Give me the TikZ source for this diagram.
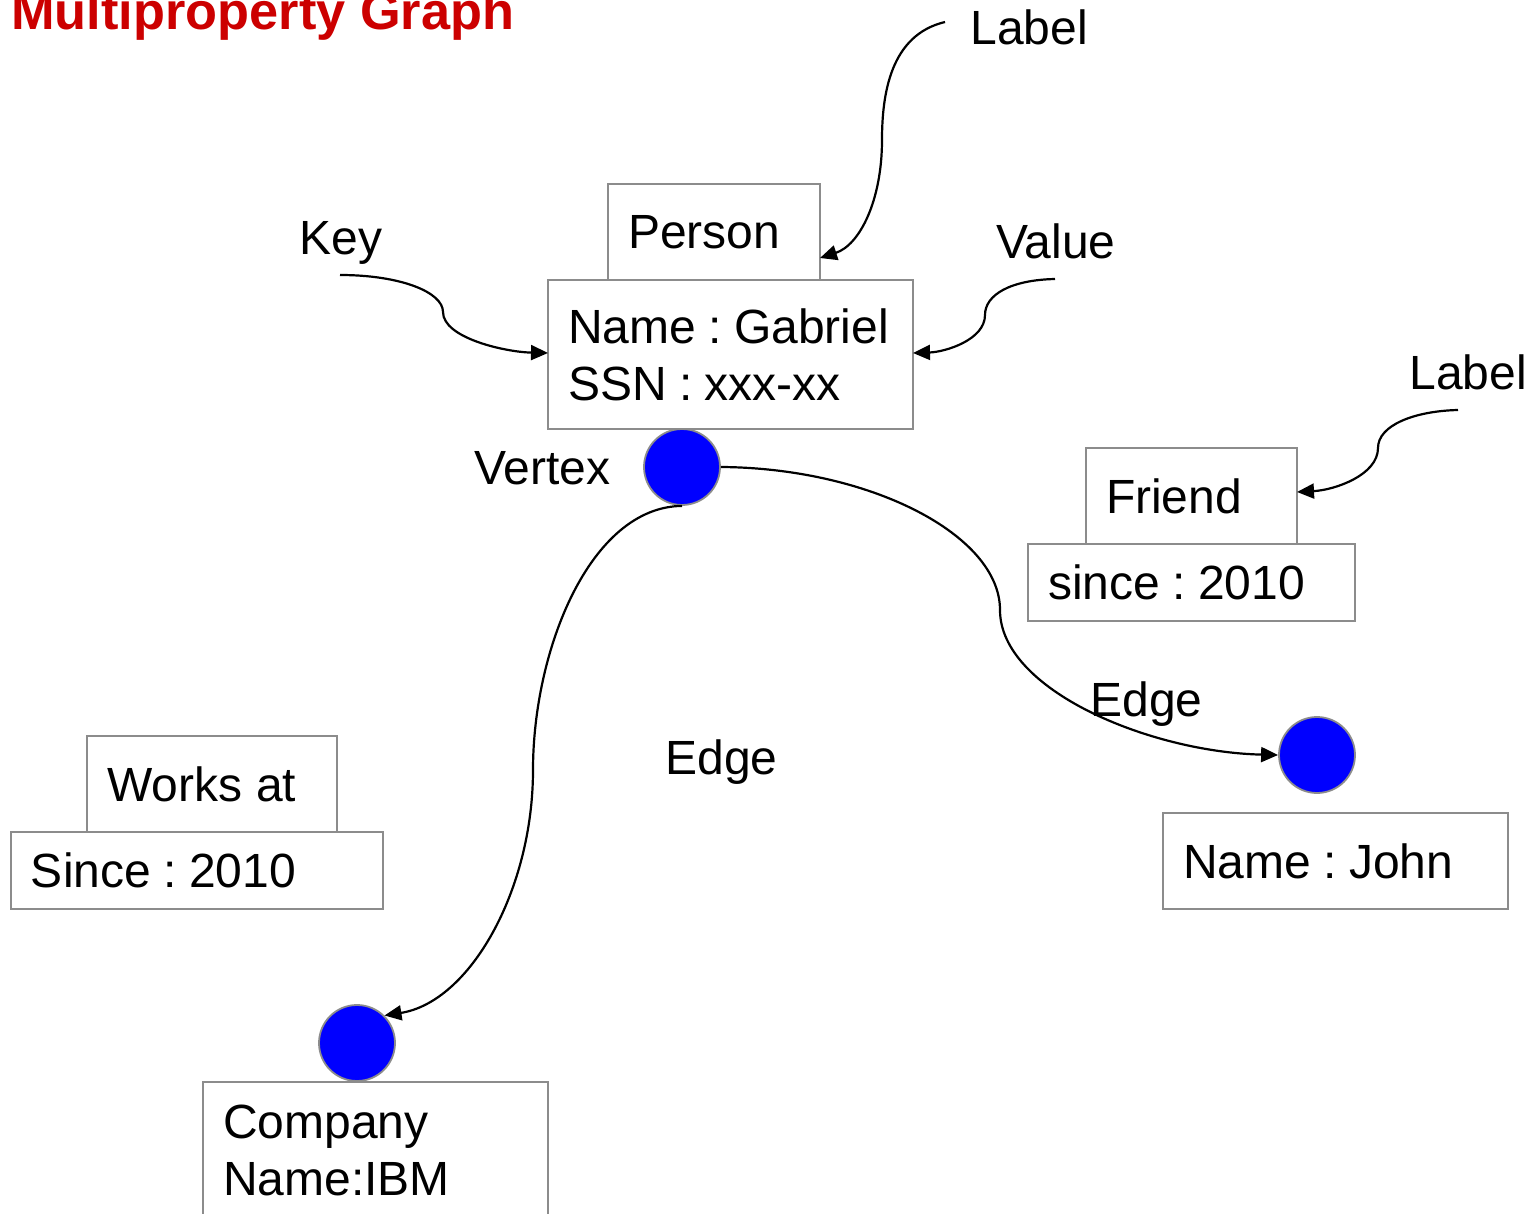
\documentclass[tikz,border=0pt]{standalone}
\usepackage{fontspec}
\setmainfont{Liberation Sans}
\usetikzlibrary{arrows.meta}
\definecolor{titlered}{HTML}{CC0000}
\definecolor{boxgray}{HTML}{8C8C8C}
% key : value pair with fixed, unbreakable spaces
\newcommand\kv[2]{#1\nobreak\hspace{6.2pt}:\nobreak\hspace{6.2pt}#2}
\begin{document}
\begin{tikzpicture}[x=0.5pt, y=-0.5pt,
  txt/.style={font=\fontsize{24}{28.5}\selectfont, inner sep=0pt},
  box/.style={draw=boxgray, line width=0.9pt, anchor=north west,
    font=\fontsize{24}{28.5}\selectfont, align=left,
    inner xsep=10pt, inner ysep=0pt, outer sep=0pt},
  vertex/.style={circle, draw=boxgray, line width=0.9pt, fill=blue,
    minimum size=38pt, inner sep=0pt},
  conn/.style={line width=1.1pt, -{Stealth[length=8.5pt, width=7.5pt, inset=0pt]}}]
\clip (0,0) rectangle (1533,1214);

% title
\node[anchor=base west, inner sep=0pt, text=titlered,
  font=\fontsize{26.15}{30}\selectfont\bfseries] (title) at (11,30) {Multiproperty Graph};

% property boxes
\node[box, text width=86pt, minimum height=48pt] (person) at (608,184) {Person};
\node[box, text width=162.5pt, minimum height=74.5pt] (gab) at (548,280) {\kv{Name}{Gabriel}\\\kv{SSN}{xxx-xx}};
\node[box, text width=85.5pt, minimum height=48pt] (friend) at (1086,448) {Friend};
\node[box, text width=143.5pt, minimum height=38.5pt] (since) at (1028,544) {\kv{since}{2010}};
\node[box, text width=105pt, minimum height=48pt] (works) at (87,736) {Works\hspace{7pt}at};
\node[box, text width=166pt, minimum height=38.5pt] (since2) at (11,832) {\kv{Since}{2010}};
\node[box, text width=152.5pt, minimum height=48pt] (john) at (1163,813) {\kv{Name}{John}};
\node[box, text width=152.5pt, minimum height=68pt] (company) at (203,1082) {Company\\Name:IBM};

% vertices
\node[vertex] (v) at (682,467) {};
\node[vertex] (vj) at (1317,755) {};
\node[vertex] (vi) at (357,1043) {};

% free labels
\node[txt, anchor=base west] (vertexlbl) at (474,485) {Vertex};
\node[txt, anchor=base west] (keylbl) at (299,255) {Key};
\node[txt, anchor=base west] (valuelbl) at (996,259) {Value};
\node[txt, anchor=base west] (label1) at (970,45) {Label};
\node[txt, anchor=base west] (label2) at (1409,390) {Label};
\node[txt, anchor=base west] (edge1) at (1090,716) {Edge};
\node[txt, anchor=base west] (edge2) at (665,774) {Edge};

% start points of the annotation arrows
\coordinate (keyend) at (340,275);
\coordinate (valend) at (1055,279);
\coordinate (lab1end) at (945,22);
\coordinate (lab2end) at (1458,410);

% annotation arrows
\draw[conn] (lab1end) .. controls (890,35) and (882,95) .. (882,140)
  .. controls (882,200) and (860,245) .. (person.east |- 0,258);
\draw[conn] (keyend) .. controls (400,275) and (443,292) .. (443,312)
  .. controls (443,338) and (505,352) .. (gab.west |- 0,353);
\draw[conn] (valend) .. controls (1010,280) and (985,295) .. (985,315)
  .. controls (985,340) and (945,352) .. (gab.east |- 0,353);
\draw[conn] (lab2end) .. controls (1415,411) and (1378,425) .. (1378,448)
  .. controls (1378,475) and (1335,490) .. (friend.east |- 0,492);

% edges between vertices
\draw[conn] (v.east) .. controls (870,468) and (1000,535) .. (1000,610)
  .. controls (1000,690) and (1150,752) .. (vj.west);
\draw[conn] (v.south) .. controls (590,507) and (533,650) .. (533,770)
  .. controls (533,890) and (470,1002) .. (vi.45);
\end{tikzpicture}
\end{document}
